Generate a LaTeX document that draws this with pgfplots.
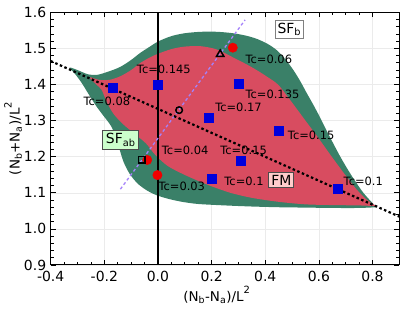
\documentclass[border=0pt]{standalone}
\usepackage{fontspec}
\setmainfont{DejaVu Sans}
\usepackage{pgfplots}
\pgfplotsset{compat=1.18}
\definecolor{sfgreen}{RGB}{58,128,104}
\definecolor{fmred}{RGB}{216,76,96}
\definecolor{lav}{RGB}{165,130,250}
\definecolor{mblue}{RGB}{0,0,220}
\definecolor{mred}{RGB}{240,0,0}
\definecolor{boxgreen}{RGB}{204,255,204}
\definecolor{boxpink}{RGB}{255,204,204}
\begin{document}
\begin{tikzpicture}
\begin{axis}[
  scale only axis, width=348.6bp, height=252.7bp,
  xmin=-0.4, xmax=0.9, ymin=0.9, ymax=1.6,
  xtick={-0.4,-0.2,0,0.2,0.4,0.6,0.8},
  ytick={0.9,1.0,1.1,1.2,1.3,1.4,1.5,1.6},
  minor x tick num=3, minor y tick num=4,
  tick align=inside, major tick length=5bp, minor tick length=3bp,
  every tick/.style={black, line width=0.7bp},
  grid=major, major grid style={black!8, line width=0.5bp},
  axis line style={line width=1bp},
  ticklabel style={font=\fontsize{14}{16}\selectfont},
  xticklabel style={yshift=-3bp},
  yticklabel style={xshift=-1bp},
  /pgf/number format/fixed, /pgf/number format/fixed zerofill,
  /pgf/number format/precision=1, /pgf/number format/assume math mode=true,
  xlabel={(N\textsubscript{b}-N\textsubscript{a})/L\raisebox{1.1ex}{\fontsize{10}{10}\selectfont 2}},
  ylabel={(N\textsubscript{b}+N\textsubscript{a})/L\raisebox{1.1ex}{\fontsize{10}{10}\selectfont 2}},
  xlabel style={at={(axis description cs:0.476,-0.118)}, anchor=center, inner sep=0pt, font=\fontsize{13.5}{15}\selectfont},
  ylabel style={at={(axis description cs:-0.108,0.5)}, anchor=center, inner sep=0pt, font=\fontsize{13.5}{15}\selectfont},
]
% green region (SF)
\addplot[draw=none, fill=sfgreen, smooth, tension=0.5] coordinates {
(0.815,1.06) (0.75,1.058) (0.65,1.058) (0.55,1.059) (0.45,1.060) (0.35,1.062) (0.25,1.065) (0.15,1.069) (0.09,1.075) (0.04,1.083) (-0.004,1.093) (-0.04,1.106) (-0.075,1.125) (-0.105,1.152) (-0.128,1.185) (-0.143,1.22) (-0.155,1.25) (-0.175,1.285) (-0.205,1.315) (-0.23,1.34) (-0.26,1.375) (-0.285,1.405) (-0.31,1.43) (-0.33,1.447) (-0.30,1.44) (-0.26,1.428) (-0.225,1.427) (-0.18,1.437) (-0.14,1.449) (-0.10,1.468) (-0.067,1.487) (-0.03,1.505) (0.0,1.519) (0.05,1.534) (0.10,1.542) (0.16,1.546) (0.22,1.546) (0.28,1.542) (0.33,1.535) (0.37,1.526) (0.41,1.512) (0.443,1.495) (0.475,1.47) (0.505,1.44) (0.53,1.41) (0.555,1.376) (0.58,1.343) (0.605,1.308) (0.636,1.262) (0.68,1.2) (0.72,1.15) (0.766,1.1) (0.815,1.06)
} -- cycle;
% red region (FM)
\addplot[draw=none, fill=fmred, smooth, tension=0.5] coordinates {
(0.815,1.063) (0.78,1.08) (0.74,1.11) (0.70,1.148) (0.65,1.198) (0.60,1.25) (0.55,1.30) (0.50,1.35) (0.45,1.398) (0.41,1.42) (0.37,1.439) (0.33,1.456) (0.28,1.475) (0.22,1.497) (0.16,1.506) (0.10,1.505) (0.05,1.498) (0.0,1.485) (-0.03,1.475) (-0.067,1.459) (-0.10,1.44) (-0.14,1.423) (-0.18,1.413) (-0.22,1.413) (-0.255,1.42) (-0.23,1.40) (-0.21,1.385) (-0.19,1.35) (-0.165,1.318) (-0.13,1.29) (-0.09,1.265) (-0.045,1.237) (-0.01,1.205) (0.035,1.175) (0.09,1.153) (0.15,1.133) (0.20,1.118) (0.27,1.10) (0.35,1.086) (0.45,1.075) (0.55,1.068) (0.65,1.066) (0.75,1.065) (0.815,1.063)
} -- cycle;
% vertical line
\addplot[black, line width=1.3bp] coordinates {(0,0.9) (0,1.6)};
% lavender dashed line
\addplot[lav, line width=1.3bp, dash pattern=on 3bp off 2.5bp] coordinates {(-0.14,1.11) (0.325,1.579)};
% black dotted line
\addplot[black, line width=2.2bp, dash pattern=on 2.5bp off 2.5bp] coordinates {(-0.4,1.465) (0.9,1.034)};
% blue squares
\addplot[only marks, mark=square*, mark size=4.5bp, mark options={fill=mblue, draw=mblue}] coordinates {
(-0.170,1.391) (0.0,1.400) (0.190,1.309) (0.300,1.401) (0.449,1.271) (0.310,1.189) (0.201,1.140) (0.671,1.110)};
% red circles
\addplot[only marks, mark=*, mark size=4.7bp, mark options={fill=mred, draw=mred}] coordinates {
(-0.002,1.149) (-0.040,1.191) (0.279,1.502)};
% black open markers
\addplot[only marks, mark=square, mark size=3.3bp, mark options={draw=black, line width=1.5bp}] coordinates {(-0.060,1.191)};
\addplot[only marks, mark=triangle, mark size=4.2bp, mark options={draw=black, line width=1.5bp}] coordinates {(0.232,1.484)};
\addplot[only marks, mark=o, mark size=3.3bp, mark options={draw=black, line width=1.5bp}] coordinates {(0.079,1.329)};
% Tc labels
\begin{scope}[every node/.style={anchor=west, inner sep=0pt, font=\fontsize{11.5}{13}\selectfont}]
\node at (axis cs:-0.278,1.352) {Tc=0.08};
\node at (axis cs:-0.079,1.442) {Tc=0.145};
\node at (axis cs:0.213,1.336) {Tc=0.17};
\node at (axis cs:0.326,1.374) {Tc=0.135};
\node at (axis cs:0.326,1.469) {Tc=0.06};
\node at (axis cs:0.484,1.260) {Tc=0.15};
\node at (axis cs:0.232,1.218) {Tc=0.15};
\node at (axis cs:0.014,1.218) {Tc=0.04};
\node at (axis cs:0.0015,1.119) {Tc=0.03};
\node at (axis cs:0.247,1.132) {Tc=0.1};
\node at (axis cs:0.692,1.132) {Tc=0.1};
\end{scope}
% boxes
\node[draw=gray, fill=white, line width=1bp, inner sep=2.5bp, font=\fontsize{14}{16}\selectfont] at (axis cs:0.490,1.552) {SF\textsubscript{b}};
\node[draw=black!70, fill=boxgreen, line width=1bp, inner sep=3bp, font=\fontsize{14}{16}\selectfont] at (axis cs:-0.139,1.247) {SF\textsubscript{ab}};
\node[draw=black!70, fill=boxpink, line width=1bp, inner sep=2.5bp, font=\fontsize{14}{16}\selectfont] at (axis cs:0.460,1.135) {FM};
\end{axis}
\pgfresetboundingbox
\path[use as bounding box] ([xshift=-50.7bp,yshift=-52bp]current axis.south west) rectangle ([xshift=15.7bp,yshift=12.3bp]current axis.north east);
\end{tikzpicture}
\end{document}
